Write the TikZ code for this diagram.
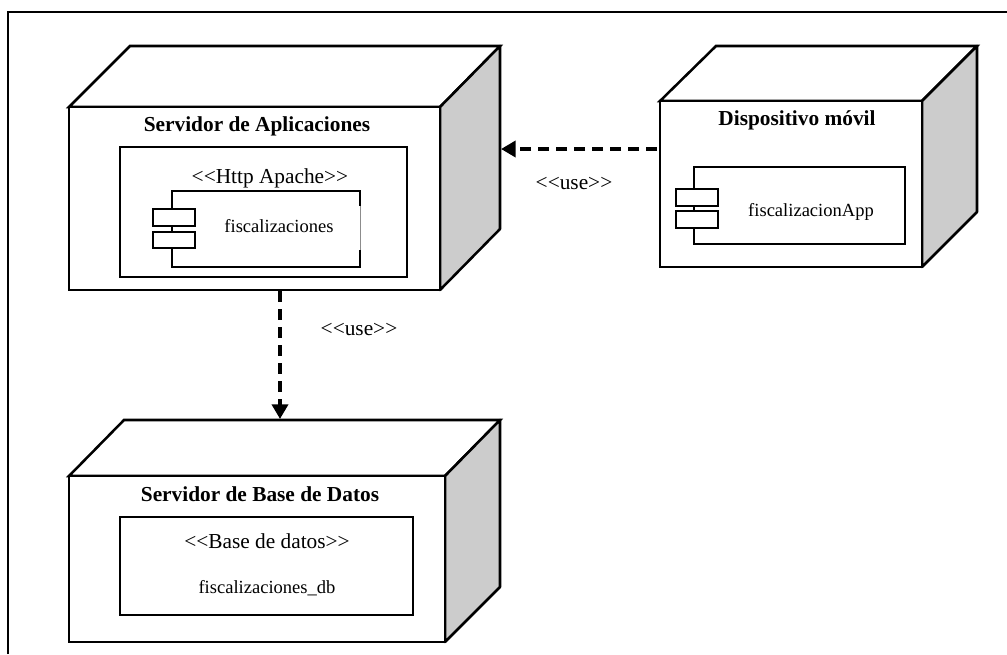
\documentclass[tikz,border=0pt]{standalone}
\usepackage{fontspec}
\setmainfont{Liberation Serif}
\usetikzlibrary{arrows.meta}
\tikzset{
  x=0.75pt,y=-0.75pt,
  frame/.style={draw=black,line width=1.5pt},
  box/.style={draw=black,line width=1.9pt,fill=white,line join=miter},
  side/.style={draw=black,line width=1.9pt,fill=black!20,line join=round},
  port/.style={draw=black,line width=1.7pt,fill=white},
  dep/.style={draw=black,line width=2.8pt,dash pattern=on 8pt off 5.5pt,-{Triangle[length=11pt,width=12pt]}},
  lab/.style={inner sep=0pt,font=\fontsize{16}{18}\selectfont},
  sm/.style={inner sep=0pt,font=\fontsize{13.9}{16}\selectfont},
  ttl/.style={inner sep=0pt,font=\fontsize{16}{18}\selectfont\bfseries}
}
\newcommand{\llt}{{<}\kern0pt{<}}
\newcommand{\ggt}{{>}\kern0pt{>}}
\begin{document}
\begin{tikzpicture}
\useasboundingbox (0,0) rectangle (1007,654);
\fill[white] (0,0) rectangle (1007,654);
\draw[frame] (8,654) -- (8,12) -- (1007,12);
% node 1
\draw[box] (69,107) -- (130,46) -- (500,46) -- (440,107) -- cycle;
\draw[side] (440,107) -- (500,46) -- (500,229) -- (440,290) -- cycle;
\draw[box] (69,107) rectangle (440,290);
\coordinate (n1e) at (501,149);
\coordinate (n1s) at (280,291);
\node[ttl] (t1) at (257,126.5) {Servidor de Aplicaciones};
\draw[box] (120,147) rectangle (407,277);
\node[lab] (l1) at (270,178) {\llt Http Apache\ggt};
\draw[box] (172,191) rectangle (360,267);
\draw[white,line width=2.4pt] (360,206) -- (360,250);
\draw[black!45,line width=0.4pt] (360.6,206) -- (360.6,250);
\draw[port] (153,209) rectangle (195,226);
\draw[port] (153,232) rectangle (195,248);
\node[sm] (c1) at (279,226) {fiscalizaciones};
% node 2
\draw[box] (660,101) -- (716,46) -- (977,46) -- (922,101) -- cycle;
\draw[side] (922,101) -- (977,46) -- (977,212) -- (922,267) -- cycle;
\draw[box] (660,101) rectangle (922,267);
\coordinate (n2w) at (657,149);
\node[ttl] (t2) at (797,120.5) {Dispositivo móvil};
\draw[box] (694,167) rectangle (905,244);
\draw[port] (676,189) rectangle (718,206);
\draw[port] (676,211) rectangle (718,228);
\node[sm] (c2) at (811,212) {fiscalizacionApp};
% node 3
\draw[box] (69,476) -- (124,420) -- (500,420) -- (445,476) -- cycle;
\draw[side] (445,476) -- (500,420) -- (500,587) -- (445,642) -- cycle;
\draw[box] (69,476) rectangle (445,642);
\coordinate (n3n) at (280,419);
\node[ttl] (t3) at (260,494.5) {Servidor de Base de Datos};
\draw[box] (120,517) rectangle (413,615);
\node[lab] (l3) at (267,541) {\llt Base de datos\ggt};
\node[sm] (c3) at (267,588.5) {fiscalizaciones\_db};
% connectors
\draw[dep] (n2w) -- (n1e);
\draw[dep] (n1s) -- (n3n);
\node[lab] (u1) at (574,183) {\llt use\ggt};
\node[lab] (u2) at (359,329) {\llt use\ggt};
\end{tikzpicture}
\end{document}
